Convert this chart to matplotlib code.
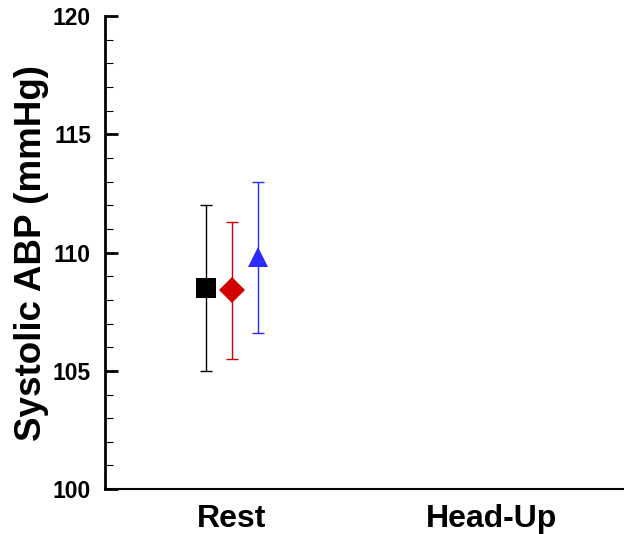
import matplotlib
matplotlib.use("Agg")
import matplotlib.pyplot as plt
from matplotlib.ticker import MultipleLocator

# data
categories = ["Rest", "Head-Up"]
group_means = [108.5, 108.4, 109.8]
group_lo = [105.0, 105.5, 106.6]
group_hi = [112.0, 111.3, 113.0]
group_colors = ["black", "#d00000", "#2b2bff"]
group_markers = ["s", "D", "^"]
group_offsets = [-0.1, 0.0, 0.1]

plt.rcParams["font.family"] = ["Liberation Sans", "DejaVu Sans"]
plt.rcParams["font.weight"] = "bold"

fig = plt.figure(figsize=(6.24, 5.34), dpi=100)
ax = fig.add_axes([0.168, 0.084, 0.832, 0.886])

msizes = [14, 13, 15]
for m, lo, hi, c, mk, off, ms in zip(group_means, group_lo, group_hi,
                                      group_colors, group_markers, group_offsets, msizes):
    ax.errorbar([0 + off], [m], yerr=[[m - lo], [hi - m]], fmt="none",
                ecolor=c, elinewidth=1, capsize=4.5, capthick=1)
    ax.plot([0 + off], [m], marker=mk, color=c, markersize=ms,
            markeredgewidth=0, linestyle="none")

ax.set_xlim(-0.49, 1.51)
ax.set_ylim(100, 120)
ax.set_xticks([0, 1])
ax.set_xticklabels(categories, fontsize=23, fontweight="bold")
ax.tick_params(axis="x", length=0, pad=11)
ax.yaxis.set_major_locator(MultipleLocator(5))
ax.yaxis.set_minor_locator(MultipleLocator(1))
ax.tick_params(axis="y", which="major", direction="in", length=9, width=2,
               labelsize=16.5, pad=10)
ax.tick_params(axis="y", which="minor", direction="in", length=6, width=0.8)
for lbl in ax.get_yticklabels():
    lbl.set_fontweight("bold")
ax.set_ylabel("Systolic ABP (mmHg)", fontsize=26.5, fontweight="bold", labelpad=3)

ax.spines["top"].set_visible(False)
ax.spines["right"].set_visible(False)
ax.spines["left"].set_linewidth(2)
ax.spines["bottom"].set_linewidth(1.5)

fig.savefig("out.png", dpi=100)
